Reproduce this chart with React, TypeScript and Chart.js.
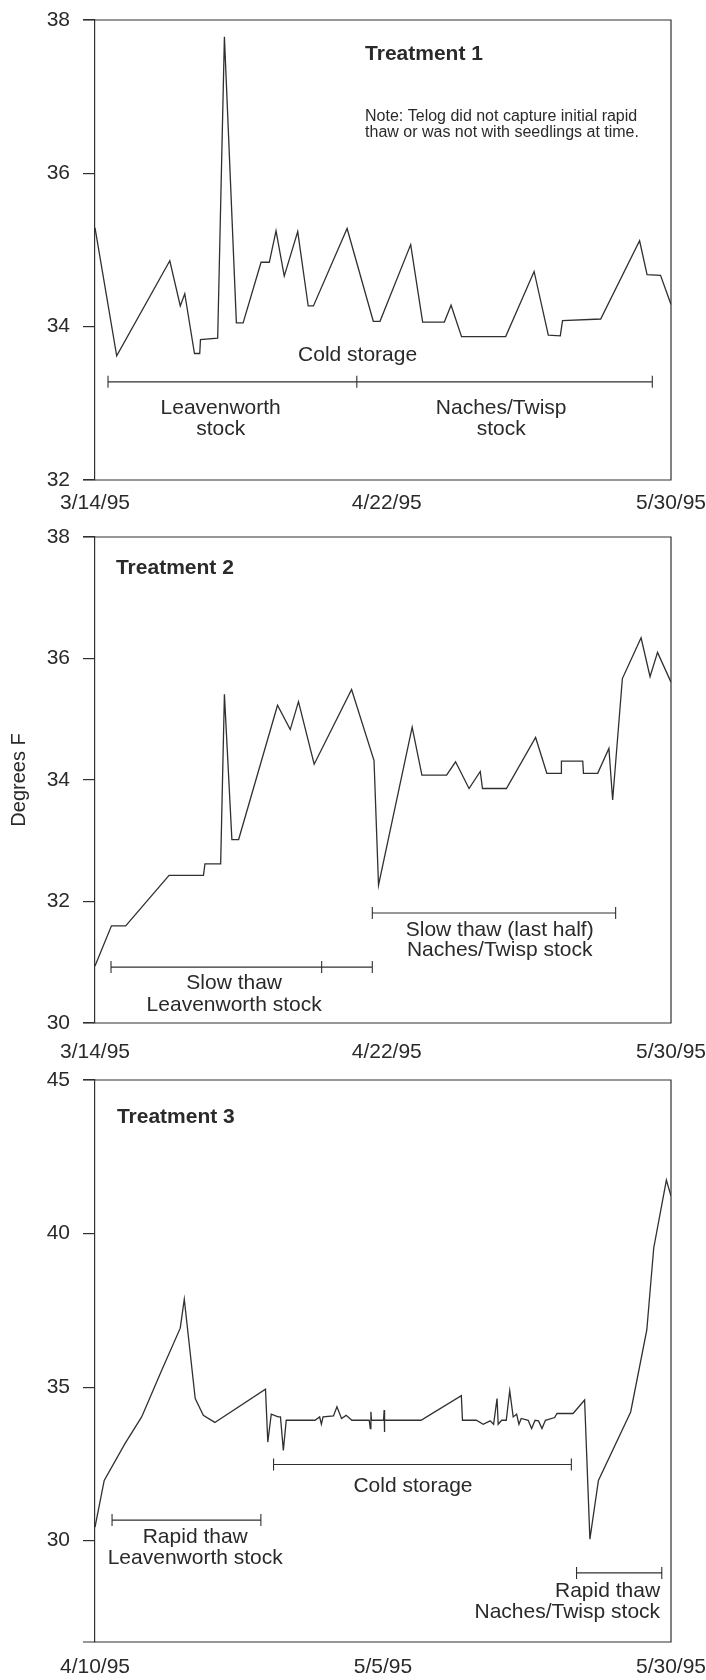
import React, { useEffect, useRef } from "react";
import { Chart, registerables } from "chart.js";

Chart.register(...registerables);

const FONT = '"Liberation Sans", Arial, Helvetica, sans-serif';
const INK = "#2a2a2a";
const LINE = "#303030";

// ---------- Treatment 1 (x = days since 3/14/95) ----------
const t1Days = [0, 2.9, 10.0, 11.4, 12.0, 13.3, 14.0, 14.1, 16.4, 17.3, 18.9, 19.8, 22.2, 23.3, 24.2, 25.3, 27.1, 28.5, 29.2, 33.7, 37.2, 38.1, 42.2, 43.8, 46.7, 47.6, 49.0, 54.9, 58.7, 60.6, 62.2, 62.5, 67.6, 72.8, 73.8, 75.6, 77.0];
const t1Temps = [35.29, 33.62, 34.86, 34.27, 34.43, 33.65, 33.65, 33.83, 33.85, 37.78, 34.05, 34.05, 34.84, 34.84, 35.25, 34.66, 35.24, 34.27, 34.27, 35.28, 34.07, 34.07, 35.07, 34.06, 34.06, 34.28, 33.87, 33.87, 34.72, 33.89, 33.88, 34.08, 34.10, 35.12, 34.68, 34.67, 34.29];
const t1XTicks = [0, 39, 77];
const t1XLabels = ["3/14/95", "4/22/95", "5/30/95"];
const t1YTicks = [32, 34, 36, 38];

// ---------- Treatment 2 (x = days since 3/14/95) ----------
const t2Days = [0, 2.2, 4.1, 9.9, 14.5, 14.7, 16.8, 17.3, 18.3, 19.2, 24.4, 26.1, 27.2, 29.3, 34.3, 37.3, 37.9, 42.4, 43.7, 47.0, 48.2, 50.0, 51.5, 51.8, 55.0, 58.9, 60.4, 62.3, 62.35, 65.2, 65.3, 67.2, 68.7, 69.2, 70.5, 73.0, 74.2, 75.2, 77.0];
const t2Temps = [30.94, 31.60, 31.60, 32.43, 32.43, 32.62, 32.62, 35.41, 33.02, 33.02, 35.23, 34.83, 35.29, 34.26, 35.49, 34.32, 32.27, 34.87, 34.08, 34.08, 34.30, 33.86, 34.14, 33.86, 33.86, 34.70, 34.11, 34.11, 34.31, 34.31, 34.11, 34.11, 34.52, 33.67, 35.67, 36.34, 35.70, 36.10, 35.61];
const t2XTicks = [0, 39, 77];
const t2XLabels = ["3/14/95", "4/22/95", "5/30/95"];
const t2YTicks = [30, 32, 34, 36, 38];

// ---------- Treatment 3 (x = days since 4/10/95) ----------
const t3Days = [0, 0.8, 2.6, 4.05, 5.8, 7.4, 7.75, 8.7, 9.4, 10.4, 14.8, 15.0, 15.3, 15.9, 16.1, 16.35, 16.6, 19.1, 19.5, 19.65, 19.8, 20.7, 21.0, 21.4, 21.8, 22.3, 23.8, 23.9, 23.95, 24.0, 25.05, 25.1, 25.12, 25.15, 28.3, 31.8, 31.9, 33.1, 33.7, 34.3, 34.6, 34.9, 35.0, 35.3, 35.7, 36.0, 36.3, 36.6, 36.8, 37.0, 37.6, 37.9, 38.2, 38.5, 38.8, 39.1, 39.9, 40.1, 41.5, 42.5, 42.96, 43.7, 46.5, 47.9, 48.5, 49.6, 50.0];
const t3Temps = [30.44, 31.96, 33.16, 34.03, 35.56, 36.92, 37.86, 34.63, 34.08, 33.85, 34.93, 33.21, 34.12, 34.03, 34.03, 32.94, 33.92, 33.92, 34.03, 33.79, 34.03, 34.06, 34.36, 33.98, 34.08, 33.92, 33.92, 33.65, 34.2, 33.92, 33.92, 34.25, 33.54, 33.92, 33.92, 34.72, 33.92, 33.92, 33.79, 33.90, 33.79, 34.63, 33.79, 33.92, 33.92, 34.88, 34.03, 34.12, 33.79, 33.98, 33.92, 33.65, 33.92, 33.90, 33.65, 33.92, 34.01, 34.14, 34.14, 34.58, 30.05, 31.96, 34.19, 36.86, 39.53, 41.74, 41.22];
const t3XTicks = [0, 25, 50];
const t3XLabels = ["4/10/95", "5/5/95", "5/30/95"];
const t3YTicks = [30, 35, 40, 45];

// ---------- annotations (anchors in data units: days, degrees) ----------
type Bracket = { xs: number[]; y: number };
type Note = { x: number; y: number; lines: string[]; align: CanvasTextAlign; bold?: boolean; size?: number; lh?: number };

const t1Brackets: Bracket[] = [{ xs: [1.74, 35.0, 74.5], y: 33.28 }];
const t1Notes: Note[] = [
  { x: 36.1, y: 37.56, lines: ["Treatment 1"], align: "left", bold: true },
  { x: 36.1, y: 36.74, lines: ["Note: Telog did not capture initial rapid", "thaw or was not with seedlings at time."], align: "left", size: 16, lh: 15.5 },
  { x: 35.1, y: 33.63, lines: ["Cold storage"], align: "center" },
  { x: 16.8, y: 32.93, lines: ["Leavenworth", "stock"], align: "center", lh: 21 },
  { x: 54.3, y: 32.93, lines: ["Naches/Twisp", "stock"], align: "center", lh: 21 },
];

const t2Brackets: Bracket[] = [
  { xs: [2.14, 30.3, 37.07], y: 30.92 },
  { xs: [37.07, 69.6], y: 31.81 },
];
const t2Notes: Note[] = [
  { x: 2.8, y: 37.49, lines: ["Treatment 2"], align: "left", bold: true },
  { x: 18.6, y: 30.66, lines: ["Slow thaw", "Leavenworth stock"], align: "center", lh: 22 },
  { x: 54.1, y: 31.53, lines: ["Slow thaw (last half)", "Naches/Twisp stock"], align: "center", lh: 20.5 },
];

const t3Brackets: Bracket[] = [
  { xs: [1.48, 14.4], y: 30.67 },
  { xs: [15.5, 41.35], y: 32.48 },
  { xs: [41.8, 49.2], y: 28.95 },
];
const t3Notes: Note[] = [
  { x: 1.9, y: 43.79, lines: ["Treatment 3"], align: "left", bold: true },
  { x: 8.7, y: 30.1, lines: ["Rapid thaw", "Leavenworth stock"], align: "center", lh: 21 },
  { x: 27.6, y: 31.76, lines: ["Cold storage"], align: "center" },
  { x: 49.05, y: 28.37, lines: ["Rapid thaw", "Naches/Twisp stock"], align: "right", lh: 21 },
];

type PanelCfg = {
  top: number;
  height: number;
  padTop: number;
  xHeight: number;
  xLabelPad: number;
  days: number[];
  temps: number[];
  xMax: number;
  xTicks: number[];
  xLabels: string[];
  yMin: number;
  yMax: number;
  yTicks: number[];
  brackets: Bracket[];
  notes: Note[];
  yTitle?: string;
};

const panels: PanelCfg[] = [
  { top: 0, height: 530, padTop: 20, xHeight: 50, xLabelPad: 10.4, days: t1Days, temps: t1Temps, xMax: 77, xTicks: t1XTicks, xLabels: t1XLabels, yMin: 32, yMax: 38, yTicks: t1YTicks, brackets: t1Brackets, notes: t1Notes },
  { top: 500, height: 560, padTop: 37, xHeight: 37, xLabelPad: 16.4, days: t2Days, temps: t2Temps, xMax: 77, xTicks: t2XTicks, xLabels: t2XLabels, yMin: 30, yMax: 38, yTicks: t2YTicks, brackets: t2Brackets, notes: t2Notes, yTitle: "Degrees F" },
  { top: 1040, height: 640, padTop: 40, xHeight: 38, xLabelPad: 12.4, days: t3Days, temps: t3Temps, xMax: 50, xTicks: t3XTicks, xLabels: t3XLabels, yMin: 26.7, yMax: 45, yTicks: t3YTicks, brackets: t3Brackets, notes: t3Notes },
];

const W = 706;

function Panel({ cfg }: { cfg: PanelCfg }) {
  const ref = useRef<HTMLCanvasElement | null>(null);
  useEffect(() => {
    const canvas = ref.current;
    if (!canvas) return;
    const decor = {
      id: "decor",
      afterDraw(chart: any) {
        const { ctx, chartArea } = chart;
        const xs = chart.scales.x;
        const ys = chart.scales.y;
        ctx.save();
        // frame (top, right, bottom)
        ctx.strokeStyle = LINE;
        ctx.lineWidth = 1.2;
        ctx.beginPath();
        ctx.moveTo(chartArea.left - 12, chartArea.top);
        ctx.lineTo(chartArea.right, chartArea.top);
        ctx.lineTo(chartArea.right, chartArea.bottom);
        ctx.lineTo(chartArea.left - 12, chartArea.bottom);
        ctx.stroke();
        // brackets
        ctx.lineWidth = 1.1;
        for (const b of cfg.brackets) {
          const py = ys.getPixelForValue(b.y);
          const px = b.xs.map((v) => xs.getPixelForValue(v));
          ctx.beginPath();
          ctx.moveTo(px[0], py);
          ctx.lineTo(px[px.length - 1], py);
          for (const p of px) {
            ctx.moveTo(p, py - 6);
            ctx.lineTo(p, py + 6);
          }
          ctx.stroke();
        }
        // text
        ctx.fillStyle = INK;
        ctx.textBaseline = "middle";
        for (const n of cfg.notes) {
          const size = n.size ?? 21;
          ctx.font = `${n.bold ? "bold " : ""}${size}px ${FONT}`;
          ctx.textAlign = n.align;
          const px = xs.getPixelForValue(n.x);
          const py = ys.getPixelForValue(n.y);
          n.lines.forEach((line, i) => {
            ctx.fillText(line, px, py + i * (n.lh ?? 21));
          });
        }
        ctx.restore();
      },
    };
    const chart = new Chart(canvas, {
      type: "line",
      data: {
        datasets: [
          {
            data: cfg.days.map((d, i) => ({ x: d, y: cfg.temps[i] })),
            borderColor: LINE,
            borderWidth: 1.3,
            pointRadius: 0,
            tension: 0,
            fill: false,
          },
        ],
      },
      options: {
        animation: false,
        responsive: false,
        maintainAspectRatio: false,
        events: [],
        layout: { padding: { top: cfg.padTop, right: 35, bottom: 0, left: 0 } },
        plugins: { legend: { display: false }, tooltip: { enabled: false } },
        scales: {
          x: {
            type: "linear",
            min: 0,
            max: cfg.xMax,
            afterBuildTicks: (s: any) => {
              s.ticks = cfg.xTicks.map((v) => ({ value: v }));
            },
            afterFit: (s: any) => {
              s.height = cfg.xHeight;
              s.paddingLeft = 0;
              s.paddingRight = 0;
            },
            ticks: {
              autoSkip: false,
              maxRotation: 0,
              minRotation: 0,
              padding: cfg.xLabelPad,
              color: INK,
              font: { family: FONT, size: 21 },
              callback: (v: any) => cfg.xLabels[cfg.xTicks.indexOf(Number(v))] ?? "",
            },
            grid: { display: false, drawTicks: false },
            border: { display: false },
          },
          y: {
            type: "linear",
            min: cfg.yMin,
            max: cfg.yMax,
            afterBuildTicks: (s: any) => {
              s.ticks = cfg.yTicks.map((v) => ({ value: v }));
            },
            afterFit: (s: any) => {
              s.width = 95;
              s.paddingTop = 0;
              s.paddingBottom = 0;
            },
            ticks: {
              padding: 13,
              color: INK,
              font: { family: FONT, size: 21 },
              callback: (v: any) => String(v),
            },
            grid: { drawOnChartArea: false, drawTicks: true, tickLength: 12, color: LINE, lineWidth: 1.2 },
            border: { display: true, color: LINE, width: 1.2 },
            title: cfg.yTitle
              ? { display: true, text: cfg.yTitle, color: INK, font: { family: FONT, size: 20 }, padding: { top: 7, bottom: 0 } }
              : { display: false },
          },
        },
      },
      plugins: [decor],
    } as any);
    return () => chart.destroy();
  }, [cfg]);
  return (
    <canvas
      ref={ref}
      width={W}
      height={cfg.height}
      style={{ position: "absolute", left: 0, top: cfg.top, width: W, height: cfg.height, display: "block" }}
    />
  );
}

export default function App() {
  return (
    <div style={{ position: "absolute", left: 0, top: 0, width: W, height: 1680, background: "#ffffff", overflow: "hidden" }}>
      {panels.map((p, i) => (
        <Panel key={i} cfg={p} />
      ))}
    </div>
  );
}
